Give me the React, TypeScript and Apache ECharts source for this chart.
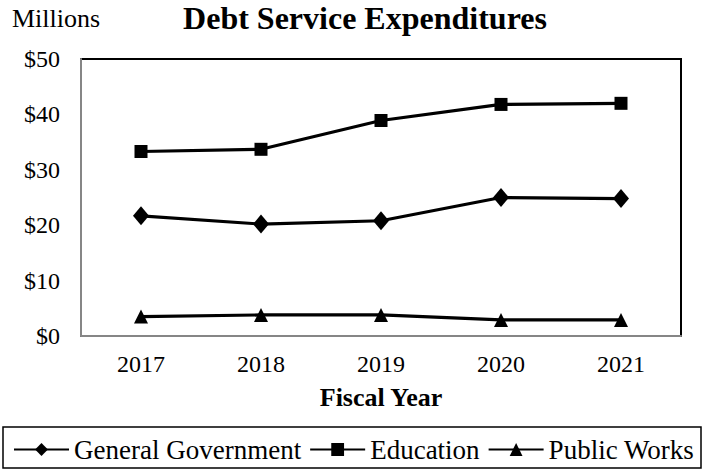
import React, { useEffect, useRef } from "react";
import * as echarts from "echarts";

const years = ["2017", "2018", "2019", "2020", "2021"];
const generalGovernment = [21.7, 20.2, 20.8, 25.0, 24.8];
const education = [33.3, 33.7, 38.9, 41.8, 42.0];
const publicWorks = [3.5, 3.8, 3.8, 2.9, 2.9];
const yTicks = { min: 0, max: 50, interval: 10 };

const FONT = "Liberation Serif";

export default function App() {
  const ref = useRef<HTMLDivElement>(null);
  useEffect(() => {
    if (!ref.current) return;
    const chart = echarts.init(ref.current, undefined, { renderer: "svg" });
    const mk = (name: string, data: number[], symbol: string, size: any) => ({
      name,
      type: "line",
      data,
      symbol,
      symbolSize: size,
      showAllSymbol: true,
      lineStyle: { color: "#000", width: 3.2 },
      itemStyle: { color: "#000" },
    });
    chart.setOption({
      animation: false,
      backgroundColor: "#fff",
      textStyle: { fontFamily: FONT, color: "#000" },
      grid: {
        left: 81,
        top: 59,
        right: 24,
        bottom: 134,
        show: true,
        borderColor: "#000",
        borderWidth: 2,
      },
      graphic: [
        {
          type: "text",
          left: 12,
          top: 5,
          style: { text: "Millions", fontFamily: FONT, fontSize: 26, fill: "#000" },
        },
        {
          type: "text",
          x: 365,
          y: 2,
          style: {
            text: "Debt Service Expenditures",
            fontFamily: FONT,
            fontSize: 32,
            fontWeight: "bold",
            fill: "#000",
            textAlign: "center",
            textVerticalAlign: "top",
          },
        },
        {
          type: "rect",
          shape: { x: 3, y: 427, width: 698, height: 41 },
          style: { fill: "none", stroke: "#000", lineWidth: 1.5 },
        },
      ],
      legend: {
        left: 13,
        top: 436,
        itemWidth: 55,
        itemHeight: 16,
        itemGap: 8,
        padding: 0,
        textStyle: { fontFamily: FONT, fontSize: 27, color: "#000" },
        data: ["General Government", "Education", "Public Works"],
      },
      xAxis: {
        type: "category",
        data: years,
        boundaryGap: true,
        axisLine: { show: true, lineStyle: { color: "#868686", width: 2 } },
        axisTick: { show: false },
        axisLabel: { fontFamily: FONT, fontSize: 24, color: "#000", margin: 16 },
        name: "Fiscal Year",
        nameLocation: "middle",
        nameGap: 48,
        nameTextStyle: { fontFamily: FONT, fontSize: 26, fontWeight: "bold", color: "#000" },
      },
      yAxis: {
        type: "value",
        min: yTicks.min,
        max: yTicks.max,
        interval: yTicks.interval,
        axisLine: { show: true, lineStyle: { color: "#868686", width: 2 } },
        axisTick: { show: false },
        splitLine: { show: false },
        axisLabel: {
          fontFamily: FONT,
          fontSize: 24,
          color: "#000",
          margin: 21,
          formatter: (v: number) => "$" + v,
        },
      },
      series: [
        mk("General Government", generalGovernment, "diamond", [16, 19]),
        mk("Education", education, "rect", 13),
        mk("Public Works", publicWorks, "triangle", 14),
      ],
    });
    return () => chart.dispose();
  }, []);
  return <div ref={ref} style={{ width: 705, height: 470, position: "absolute", left: 0, top: 0 }} />;
}
